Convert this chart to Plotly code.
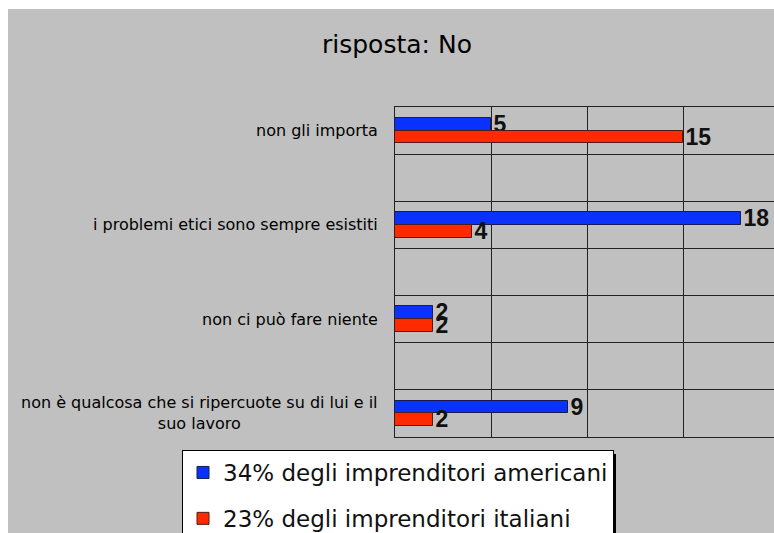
import plotly.graph_objects as go

categories = [
    "non gli importa",
    "i problemi etici sono sempre esistiti",
    "non ci può fare niente",
    "non è qualcosa che si ripercuote su di lui e il<br>suo lavoro",
]
positions = [0, 2, 4, 6]
americani = [5, 18, 2, 9]
italiani = [15, 4, 2, 2]
series_names = ["34% degli imprenditori americani", "23% degli imprenditori italiani"]
title_text = "risposta: No"

W, H = 774, 533
ML, MR, MT, MB = 395, 0, 107, 96
PW, PH = W - ML - MR, H - MT - MB


def px_x(p):
    return (p - ML) / PW


def px_y(p):
    return (H - MB - p) / PH


BW = 0.27
fig = go.Figure()
fig.add_trace(go.Bar(
    y=positions, x=americani, orientation="h", name=series_names[0],
    width=BW, offset=-BW, marker=dict(color="#0A32FF", line=dict(color="#1a1a50", width=1)),
    text=americani, textposition="outside", constraintext="none", cliponaxis=False,
    textfont=dict(family="Liberation Sans", size=23, color="#111111", weight="bold"),
    legendgroup="a",
))
fig.add_trace(go.Bar(
    y=positions, x=italiani, orientation="h", name=series_names[1],
    width=BW, offset=0, marker=dict(color="#FF2A00", line=dict(color="#501a1a", width=1)),
    text=italiani, textposition="outside", constraintext="none", cliponaxis=False,
    textfont=dict(family="Liberation Sans", size=23, color="#111111", weight="bold"),
    legendgroup="b",
))

annotations = []
for lab, pos in zip(categories, positions):
    annotations.append(dict(
        x=0, xref="paper", y=pos, yref="y", text=lab, showarrow=False,
        xanchor="right", yanchor="middle", align="center", xshift=-15,
        font=dict(family="DejaVu Sans", size=16, color="#000000"),
    ))
annotations.append(dict(
    x=px_x(397), xref="paper", y=px_y(45), yref="paper", text=title_text, showarrow=False,
    xanchor="center", yanchor="middle",
    font=dict(family="DejaVu Sans", size=25, color="#000000"),
))

shapes = [
    dict(type="rect", xref="paper", yref="paper", x0=px_x(8), x1=px_x(W + 5),
         y0=px_y(H + 5), y1=px_y(9), fillcolor="#C0C0C0", line=dict(width=0), layer="below"),
    # legend shadow
    dict(type="rect", xref="paper", yref="paper", x0=px_x(186), x1=px_x(616),
         y0=px_y(H + 5), y1=px_y(454), fillcolor="#000000", line=dict(width=0), layer="above"),
]

fig.update_layout(
    width=W, height=H,
    margin=dict(l=ML, r=MR, t=MT, b=MB, autoexpand=False),
    paper_bgcolor="#FFFFFF", plot_bgcolor="#C0C0C0",
    barmode="overlay", bargap=0,
    showlegend=True,
    legend=dict(
        x=px_x(182), xanchor="left", y=px_y(450), yanchor="top",
        bgcolor="#FFFFFF", bordercolor="#000000", borderwidth=1,
        font=dict(family="DejaVu Sans", size=23, color="#111111"),
        tracegroupgap=13, itemwidth=30, traceorder="grouped",
    ),
    xaxis=dict(range=[0, (W - ML) / 19.2], dtick=5, tick0=0, showgrid=True, gridcolor="#222222",
               gridwidth=1, showticklabels=False, zeroline=False, ticks="",
               showline=True, linecolor="#222222", linewidth=1, mirror=True),
    yaxis=dict(range=[6.5, -0.5], tick0=-0.5, dtick=1, showgrid=True, gridcolor="#222222",
               gridwidth=1, showticklabels=False, zeroline=False, ticks="",
               showline=True, linecolor="#222222", linewidth=1),
    annotations=annotations, shapes=shapes,
)

fig.write_html("out.html")
